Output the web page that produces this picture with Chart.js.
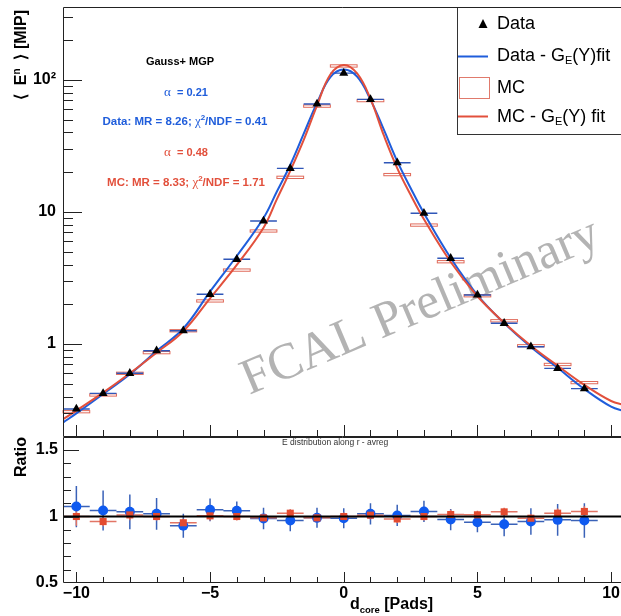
<!DOCTYPE html>
<html>
<head>
<meta charset="utf-8">
<script src="https://cdn.jsdelivr.net/npm/chart.js@4.4.1/dist/chart.umd.min.js"></script>
<style>
  html, body { margin: 0; padding: 0; background: #fff; overflow: hidden; width: 621px; height: 616px; }
  #top { position: absolute; left: 0; top: 0; }
  #bot { position: absolute; left: 0; top: 430px; }
</style>
</head>
<body>
<canvas id="top" width="621" height="440" style="width:621px;height:440px"></canvas>
<canvas id="bot" width="621" height="186" style="width:621px;height:186px"></canvas>
<script>
const SANS = '"Liberation Sans", Arial, Helvetica, sans-serif';
const SERIF = '"Liberation Serif", "Times New Roman", serif';
const BLUE = '#1f5ddb';
const RED = '#e2503c';

// bins (d_core, pads)
const dcore = [-10, -9, -8, -7, -6, -5, -4, -3, -2, -1, 0, 1, 2, 3, 4, 5, 6, 7, 8, 9];
// <E_n> [MIP]
const dataE = [0.322, 0.423, 0.60, 0.89, 1.26, 2.38, 4.38, 8.55, 21.4, 65.8, 112.6, 71.3, 23.6, 9.78, 4.46, 2.35, 1.435, 0.954, 0.654, 0.459];
const mcE   = [0.307, 0.411, 0.60, 0.86, 1.26, 2.12, 3.63, 7.18, 18.3, 63.4, 127.7, 69.8, 19.2, 7.96, 4.2, 2.32, 1.5, 0.97, 0.70, 0.51];
const mcErr = [0.006, 0.008, 0.012, 0.017, 0.025, 0.042, 0.073, 0.14, 0.37, 1.3, 2.6, 1.4, 0.38, 0.16, 0.084, 0.046, 0.03, 0.019, 0.014, 0.010];

// fit curves
const fitX    = [-10.5, -10, -9, -8, -7, -6, -5, -4, -3, -2.5, -2, -1.5, -1, -0.5, 0, 0.5, 1, 1.5, 2, 2.5, 3, 4, 5, 6, 7, 8, 9, 10, 10.5];
const dataFit = [0.254, 0.298, 0.418, 0.59, 0.885, 1.31, 2.49, 4.64, 9.0, 14.3, 22.7, 39, 67, 105, 120, 106, 71, 42, 24.3, 15.2, 9.8, 4.48, 2.35, 1.44, 0.95, 0.66, 0.456, 0.335, 0.31];
const mcFit   = [0.269, 0.313, 0.428, 0.60, 0.86, 1.25, 2.22, 3.97, 7.6, 12.5, 20.5, 35, 64, 110, 130, 112, 72, 38, 21.5, 13.5, 8.8, 4.18, 2.3, 1.45, 0.97, 0.685, 0.49, 0.37, 0.345];

// ratio panel
const ratioData    = [1.075, 1.045, 1.035, 1.02, 0.93, 1.05, 1.043, 0.985, 0.97, 0.99, 0.987, 1.02, 1.008, 1.038, 0.977, 0.957, 0.942, 0.962, 0.975, 0.97];
const ratioDataErr = [0.155, 0.15, 0.13, 0.12, 0.09, 0.085, 0.07, 0.08, 0.08, 0.075, 0.075, 0.08, 0.08, 0.08, 0.08, 0.075, 0.09, 0.10, 0.12, 0.13];
const ratioMC      = [1.0, 0.962, 1.012, 1.0, 0.953, 1.005, 1.0, 0.99, 1.025, 0.99, 1.0, 1.01, 0.982, 1.0, 1.015, 1.013, 1.035, 0.987, 1.025, 1.038];
const ratioMCErr   = [0.07, 0.035, 0.04, 0.03, 0.03, 0.035, 0.03, 0.03, 0.03, 0.03, 0.03, 0.03, 0.03, 0.03, 0.035, 0.03, 0.03, 0.03, 0.035, 0.04];

// ticks
const xTicks = [-10, -5, 0, 5, 10];
const xTickLabels = ['\u221210', '\u22125', '0', '5', '10'];
const eTicks = [1, 10, 100];
const eTickLabels = ['1', '10', '10\u00b2'];
const rTicks = [0.5, 1, 1.5];
const rTickLabels = ['0.5', '1', '1.5'];

const X_MIN = -10.5, X_MAX = 10.37;   // frame runs past the right edge of the picture

const b = (s) => `bold ${s}px ${SANS}`;

function rich(ctx, x, y, parts, align) {
    let w = 0;
    parts.forEach(p => { ctx.font = p.f; w += ctx.measureText(p.t).width; });
    let cx = align === 'center' ? x - w / 2 : align === 'right' ? x - w : x;
    ctx.textAlign = 'left';
    parts.forEach(p => {
        ctx.font = p.f;
        ctx.fillText(p.t, cx, y + (p.dy || 0));
        cx += ctx.measureText(p.t).width;
    });
}

// frame + inner ROOT-style ticks
function frameTicks(o) {
    return {
        id: 'frameTicks',
        afterDraw(chart) {
            const { ctx, chartArea: a, scales: { x, y } } = chart;
            ctx.save();
            ctx.strokeStyle = '#222';
            ctx.lineWidth = 1;
            ctx.beginPath();
            ctx.moveTo(a.right + 2, a.top + 0.5);
            ctx.lineTo(a.left + 0.5, a.top + 0.5);
            ctx.lineTo(a.left + 0.5, a.bottom - 0.5);
            ctx.lineTo(a.right + 2, a.bottom - 0.5);
            for (let v = -10; v <= 10; v++) {
                const px = Math.round(x.getPixelForValue(v)) + 0.5;
                const len = v % 5 === 0 ? o.xMajor : o.xMinor;
                ctx.moveTo(px, a.bottom);
                ctx.lineTo(px, a.bottom - len);
            }
            o.yMinor.forEach(t => {
                const py = Math.round(y.getPixelForValue(t.v)) + 0.5;
                if (py < a.top + 1 || py > a.bottom - 1) return;
                ctx.moveTo(a.left, py);
                ctx.lineTo(a.left + (t.major ? o.yMajor : o.yMinorLen), py);
            });
            ctx.stroke();
            ctx.restore();
        }
    };
}

const logMinor = [];
[0.1, 1, 10, 100].forEach(d => { for (let m = 1; m <= 9; m++) logMinor.push({ v: m * d, major: m === 1 }); });
const ratioMinor = [];
for (let k = 5; k <= 16; k++) ratioMinor.push({ v: k / 10, major: k % 5 === 0 });

const topDecor = {
    id: 'topDecor',
    beforeDatasetsDraw(chart) {
        const { ctx, scales: { x, y } } = chart;
        ctx.save();
        // watermark
        ctx.translate(426, 320);
        ctx.rotate(-23 * Math.PI / 180);
        ctx.font = `51px ${SERIF}`;
        ctx.fillStyle = 'rgba(150,150,150,0.72)';
        ctx.textAlign = 'center';
        ctx.textBaseline = 'alphabetic';
        ctx.fillText('FCAL Preliminary', 0, 0);
        ctx.restore();

        ctx.save();
        // MC boxes
        ctx.strokeStyle = '#e06a5a';
        ctx.lineWidth = 1;
        dcore.forEach((d, i) => {
            const x0 = x.getPixelForValue(d - 0.5), x1 = x.getPixelForValue(d + 0.5);
            const y0 = y.getPixelForValue(mcE[i] + mcErr[i]), y1 = y.getPixelForValue(mcE[i] - mcErr[i]);
            ctx.strokeRect(x0, y0, x1 - x0, Math.max(y1 - y0, 1));
        });
        // data x-error bars
        ctx.strokeStyle = '#2f56b8';
        ctx.lineWidth = 1.4;
        ctx.beginPath();
        dcore.forEach((d, i) => {
            const py = y.getPixelForValue(dataE[i]);
            ctx.moveTo(x.getPixelForValue(d - 0.5), py);
            ctx.lineTo(x.getPixelForValue(d + 0.5), py);
        });
        ctx.stroke();
        ctx.restore();
    },
    afterDraw(chart) {
        const { ctx } = chart;
        ctx.save();
        ctx.textBaseline = 'middle';
        // fit annotations
        ctx.fillStyle = '#000';
        rich(ctx, 180, 62, [{ t: 'Gauss+ MGP', f: b(11) }], 'center');
        ctx.fillStyle = BLUE;
        rich(ctx, 186, 93, [{ t: '\u03b1', f: `13px ${SERIF}` }, { t: '  = 0.21', f: b(11) }], 'center');
        rich(ctx, 185, 122, [{ t: 'Data: MR = 8.26; ', f: b(11.5) }, { t: '\u03c7', f: `13px ${SERIF}` }, { t: '2', f: b(8), dy: -4 }, { t: '/NDF = 0.41', f: b(11.5) }], 'center');
        ctx.fillStyle = RED;
        rich(ctx, 186, 153, [{ t: '\u03b1', f: `13px ${SERIF}` }, { t: '  = 0.48', f: b(11) }], 'center');
        rich(ctx, 186, 183, [{ t: 'MC: MR = 8.33; ', f: b(11.5) }, { t: '\u03c7', f: `13px ${SERIF}` }, { t: '2', f: b(8), dy: -4 }, { t: '/NDF = 1.71', f: b(11.5) }], 'center');

        // legend
        ctx.fillStyle = '#fff';
        ctx.fillRect(457.5, 7.5, 200, 127);
        ctx.strokeStyle = '#333';
        ctx.lineWidth = 1;
        ctx.strokeRect(457.5, 7.5, 200, 127);
        ctx.fillStyle = '#000';
        ctx.beginPath();
        ctx.moveTo(483, 19); ctx.lineTo(487.5, 28); ctx.lineTo(478.5, 28); ctx.closePath();
        ctx.fill();
        ctx.lineWidth = 2;
        ctx.strokeStyle = BLUE;
        ctx.beginPath(); ctx.moveTo(458, 56.5); ctx.lineTo(488, 56.5); ctx.stroke();
        ctx.strokeStyle = RED;
        ctx.beginPath(); ctx.moveTo(458, 116.5); ctx.lineTo(488, 116.5); ctx.stroke();
        ctx.lineWidth = 1;
        ctx.strokeStyle = '#e07a6c';
        ctx.strokeRect(459.5, 77.5, 30, 21);
        ctx.fillStyle = '#000';
        const lf = `18px ${SANS}`, sf = `11px ${SANS}`;
        rich(ctx, 497, 24, [{ t: 'Data', f: lf }], 'left');
        rich(ctx, 497, 56, [{ t: 'Data - G', f: lf }, { t: 'E', f: sf, dy: 5 }, { t: '(Y)fit', f: lf }], 'left');
        rich(ctx, 497, 88, [{ t: 'MC', f: lf }], 'left');
        rich(ctx, 497, 117, [{ t: 'MC - G', f: lf }, { t: 'E', f: sf, dy: 5 }, { t: '(Y) fit', f: lf }], 'left');

        // y title
        ctx.translate(26, 10);
        ctx.rotate(-Math.PI / 2);
        ctx.textBaseline = 'alphabetic';
        rich(ctx, 0, 0, [{ t: '\u27e8  E', f: b(16) }, { t: 'n', f: b(10), dy: -6 }, { t: '  \u27e9 [MIP]', f: b(16) }], 'right');
        ctx.restore();
    }
};

const botDecor = {
    id: 'botDecor',
    beforeDatasetsDraw(chart) {
        const { ctx, scales: { x, y } } = chart;
        ctx.save();
        ctx.lineWidth = 1.5;
        const bars = (vals, errs, col) => {
            ctx.strokeStyle = col;
            ctx.beginPath();
            dcore.forEach((d, i) => {
                const px = x.getPixelForValue(d), py = y.getPixelForValue(vals[i]);
                ctx.moveTo(x.getPixelForValue(d - 0.5), py);
                ctx.lineTo(x.getPixelForValue(d + 0.5), py);
                ctx.moveTo(px, y.getPixelForValue(vals[i] + errs[i]));
                ctx.lineTo(px, y.getPixelForValue(vals[i] - errs[i]));
            });
            ctx.stroke();
        };
        bars(ratioData, ratioDataErr, '#3a62b8');
        bars(ratioMC, ratioMCErr, '#e27565');
        ctx.restore();
    },
    afterDraw(chart) {
        const { ctx } = chart;
        ctx.save();
        ctx.fillStyle = '#333';
        ctx.textBaseline = 'middle';
        rich(ctx, 282, 13, [{ t: 'E distribution along r - avreg', f: `8.5px ${SANS}` }], 'left');
        ctx.fillStyle = '#000';
        ctx.textBaseline = 'alphabetic';
        rich(ctx, 350, 179, [{ t: 'd', f: b(16) }, { t: 'core', f: b(9.5), dy: 4 }, { t: ' [Pads]', f: b(16) }], 'left');
        ctx.translate(26, 7);
        ctx.rotate(-Math.PI / 2);
        rich(ctx, 0, 0, [{ t: 'Ratio', f: b(16) }], 'right');
        ctx.restore();
    }
};

const zeroPad = (s) => { s.paddingTop = 0; s.paddingBottom = 0; s.paddingLeft = 0; s.paddingRight = 0; };

new Chart(document.getElementById('top'), {
    type: 'scatter',
    data: {
        datasets: [
            { type: 'scatter', data: dcore.map((x, i) => ({ x, y: dataE[i] })), pointStyle: 'triangle', pointRadius: 5.2, backgroundColor: '#000', borderWidth: 0, order: 0 },
            { type: 'line', data: fitX.map((x, i) => ({ x, y: mcFit[i] })), borderColor: RED, borderWidth: 2, pointRadius: 0, tension: 0.4, fill: false, order: 1 },
            { type: 'line', data: fitX.map((x, i) => ({ x, y: dataFit[i] })), borderColor: BLUE, borderWidth: 2, pointRadius: 0, tension: 0.4, fill: false, order: 2 }
        ]
    },
    options: {
        responsive: false,
        animation: false,
        devicePixelRatio: 1,
        layout: { autoPadding: false, padding: { left: 0, right: 0, top: 7, bottom: 3 } },
        plugins: { legend: { display: false }, tooltip: { enabled: false } },
        scales: {
            x: { type: 'linear', min: X_MIN, max: X_MAX, display: false },
            y: {
                type: 'logarithmic', min: 0.1975, max: 357,
                grid: { display: false, drawTicks: false },
                border: { display: false },
                afterBuildTicks: s => { s.ticks = eTicks.map(v => ({ value: v })); },
                afterFit: s => { s.width = 63; zeroPad(s); },
                ticks: {
                    autoSkip: false, padding: 7, color: '#000',
                    font: { family: SANS, size: 16, weight: 'bold' },
                    callback: v => eTickLabels[eTicks.indexOf(v)] ?? ''
                }
            }
        }
    },
    plugins: [topDecor, frameTicks({ xMajor: 12, xMinor: 7, yMajor: 19, yMinorLen: 10, yMinor: logMinor })]
});

new Chart(document.getElementById('bot'), {
    type: 'scatter',
    data: {
        datasets: [
            { type: 'line', data: [{ x: X_MIN, y: 1 }, { x: X_MAX, y: 1 }], borderColor: '#000', borderWidth: 2, pointRadius: 0, order: 0 },
            { type: 'scatter', data: dcore.map((x, i) => ({ x, y: ratioMC[i] })), pointStyle: 'rect', pointRadius: 5, backgroundColor: '#e34b30', borderWidth: 0, order: 1 },
            { type: 'scatter', data: dcore.map((x, i) => ({ x, y: ratioData[i] })), pointStyle: 'circle', pointRadius: 5, backgroundColor: '#0f5af0', borderWidth: 0, order: 2 }
        ]
    },
    options: {
        responsive: false,
        animation: false,
        devicePixelRatio: 1,
        layout: { autoPadding: false, padding: { left: 0, right: 0, top: 7, bottom: 0 } },
        plugins: { legend: { display: false }, tooltip: { enabled: false } },
        scales: {
            x: {
                type: 'linear', min: X_MIN, max: X_MAX,
                grid: { display: false, drawTicks: false },
                border: { display: false },
                afterBuildTicks: s => { s.ticks = xTicks.map(v => ({ value: v })); },
                afterFit: s => { s.height = 33; zeroPad(s); },
                ticks: {
                    autoSkip: false, maxRotation: 0, padding: 1, color: '#000',
                    font: { family: SANS, size: 16, weight: 'bold' },
                    callback: v => xTickLabels[xTicks.indexOf(v)] ?? ''
                }
            },
            y: {
                type: 'linear', min: 0.5, max: 1.598,
                grid: { display: false, drawTicks: false },
                border: { display: false },
                afterBuildTicks: s => { s.ticks = rTicks.map(v => ({ value: v })); },
                afterFit: s => { s.width = 63; zeroPad(s); },
                ticks: {
                    autoSkip: false, padding: 5, color: '#000',
                    font: { family: SANS, size: 16, weight: 'bold' },
                    callback: v => rTickLabels[rTicks.indexOf(v)] ?? ''
                }
            }
        }
    },
    plugins: [botDecor, frameTicks({ xMajor: 11, xMinor: 6, yMajor: 16, yMinorLen: 8, yMinor: ratioMinor })]
});
</script>
</body>
</html>
